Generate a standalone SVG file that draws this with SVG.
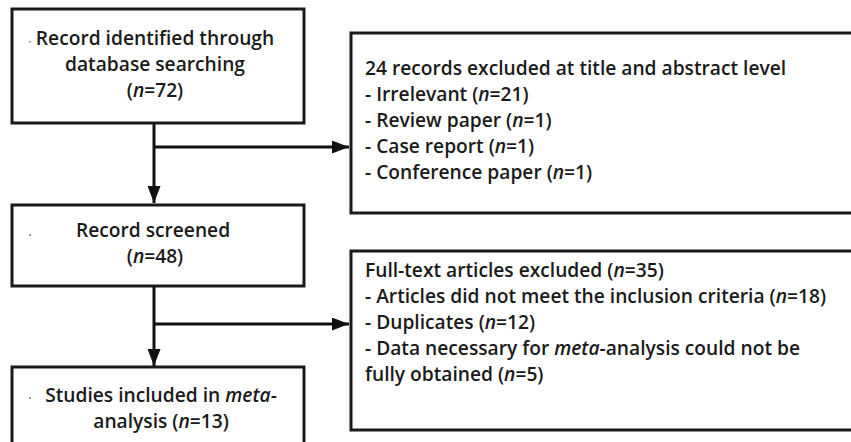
<svg xmlns="http://www.w3.org/2000/svg" width="851" height="442" viewBox="0 0 851 442">
<defs>
<marker id="arr" markerWidth="17" markerHeight="13" refX="17" refY="6.5" orient="auto" markerUnits="userSpaceOnUse" viewBox="0 0 17 13">
<path d="M0,0 L17,6.5 L0,13 Z" fill="#111"/>
</marker>
<style>
.box{fill:#fff;stroke:#1a1a1a;stroke-width:3}
.t{font-family:"Open Sans","Noto Sans","DejaVu Sans",sans-serif;font-size:19.2px;font-weight:600;fill:#1a1a1a}
.c{text-anchor:middle}
.ln{fill:none;stroke:#111;stroke-width:3}
.dot{fill:#999}
</style>
</defs>
<rect width="851" height="442" fill="#fff"/>
<g id="n1">
<rect class="box" x="12" y="9" width="292" height="114"/>
<text class="t c" x="155" y="45">Record identified through</text>
<text class="t c" x="155" y="71">database searching</text>
<text class="t c" x="155" y="97">(<tspan font-style="italic">n</tspan>=72)</text>
<rect class="dot" x="29" y="41" width="2" height="1.5"/>
</g>
<g id="n2">
<rect class="box" x="12" y="205" width="292" height="81"/>
<text class="t c" x="153" y="237">Record screened</text>
<text class="t c" x="155" y="263">(<tspan font-style="italic">n</tspan>=48)</text>
<rect class="dot" x="29" y="234" width="2" height="2"/>
</g>
<g id="n3">
<rect class="box" x="12" y="367" width="292" height="90"/>
<text class="t c" x="161" y="402">Studies included in <tspan font-style="italic">meta</tspan>-</text>
<text class="t c" x="161" y="428">analysis (<tspan font-style="italic">n</tspan>=13)</text>
<rect class="dot" x="29" y="397" width="2" height="2"/>
</g>
<g id="n4">
<rect class="box" x="351" y="33" width="520" height="180"/>
<text class="t" x="365" y="75">24 records excluded at title and abstract level</text>
<text class="t" x="365" y="101">- Irrelevant (<tspan font-style="italic">n</tspan>=21)</text>
<text class="t" x="365" y="127">- Review paper (<tspan font-style="italic">n</tspan>=1)</text>
<text class="t" x="365" y="153">- Case report (<tspan font-style="italic">n</tspan>=1)</text>
<text class="t" x="365" y="179">- Conference paper (<tspan font-style="italic">n</tspan>=1)</text>
</g>
<g id="n5">
<rect class="box" x="351" y="251" width="520" height="179"/>
<text class="t" x="365" y="277">Full-text articles excluded (<tspan font-style="italic">n</tspan>=35)</text>
<text class="t" x="365" y="303">- Articles did not meet the inclusion criteria (<tspan font-style="italic">n</tspan>=18)</text>
<text class="t" x="365" y="329">- Duplicates (<tspan font-style="italic">n</tspan>=12)</text>
<text class="t" x="365" y="355">- Data necessary for <tspan font-style="italic">meta</tspan>-analysis could not be</text>
<text class="t" x="365" y="381">fully obtained (<tspan font-style="italic">n</tspan>=5)</text>
</g>
<g id="connectors">
<path class="ln" d="M154,123 V203" marker-end="url(#arr)"/>
<path class="ln" d="M154,147 H349" marker-end="url(#arr)"/>
<path class="ln" d="M154,286 V366" marker-end="url(#arr)"/>
<path class="ln" d="M154,324 H349" marker-end="url(#arr)"/>
</g>
</svg>
